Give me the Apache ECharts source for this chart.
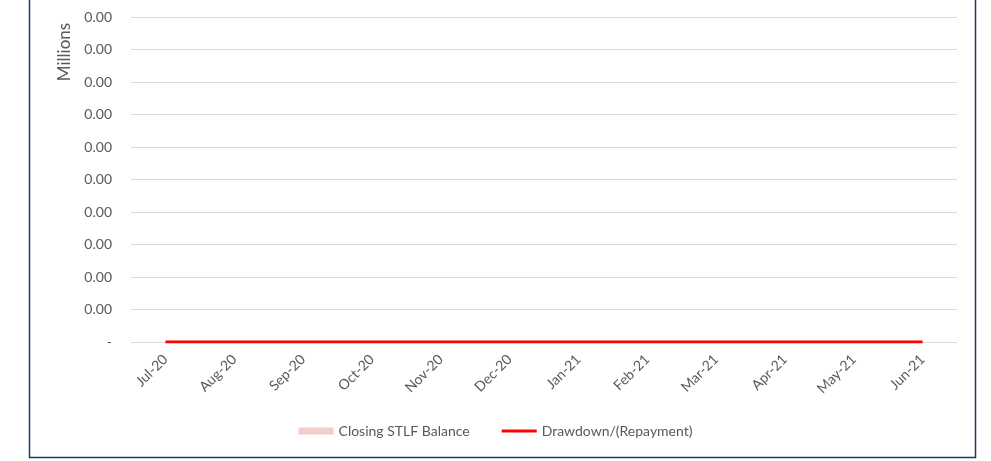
<!DOCTYPE html>
<html>
<head>
<meta charset="utf-8">
<script src="https://cdn.jsdelivr.net/npm/echarts@6/dist/echarts.min.js"></script>
<style>html,body{margin:0;padding:0;background:#fff;}#c{width:991px;height:461px;}</style>
</head>
<body>
<div id="c"></div>
<script>
const categories = ['Jul-20','Aug-20','Sep-20','Oct-20','Nov-20','Dec-20','Jan-21','Feb-21','Mar-21','Apr-21','May-21','Jun-21'];
const closingBalance = [0,0,0,0,0,0,0,0,0,0,0,0];
const drawdown = [0,0,0,0,0,0,0,0,0,0,0,0];
const yTickLabels = ['-','0.00','0.00','0.00','0.00','0.00','0.00','0.00','0.00','0.00','0.00'];

const chart = echarts.init(document.getElementById('c'), null, {renderer:'canvas'});
const font = 'Lato, "Liberation Sans", sans-serif';
chart.setOption({
  animation: false,
  textStyle: {fontFamily: font},
  grid: {left: 131, right: 34, top: 17, bottom: 119, containLabel: false},
  xAxis: {
    type: 'category',
    data: categories,
    boundaryGap: true,
    axisLine: {show: false},
    axisTick: {show: false},
    axisLabel: {rotate: 45, margin: 15, color: '#595959', fontSize: 14, fontFamily: font}
  },
  yAxis: {
    type: 'value',
    min: 0, max: 10, interval: 1,
    axisLine: {show: false},
    axisTick: {show: false},
    splitLine: {lineStyle: {color: '#d9d9d9', width: 1}},
    axisLabel: {
      margin: 19, color: '#595959', fontSize: 14, fontFamily: font,
      formatter: function (v) { return yTickLabels[Math.round(v)]; }
    }
  },
  legend: {
    bottom: 18, left: 'center',
    itemGap: 32, itemWidth: 35, itemHeight: 7,
    textStyle: {color: '#595959', fontSize: 14, fontFamily: font},
    data: [
      {name: 'Closing STLF Balance', icon: 'rect'},
      {name: 'Drawdown/(Repayment)', icon: 'path://M0,0 L35,0 L35,3 L0,3 Z'}
    ]
  },
  series: [
    {name: 'Closing STLF Balance', type: 'bar', data: closingBalance, itemStyle: {color: '#f4cccc'}, barWidth: '55%'},
    {name: 'Drawdown/(Repayment)', type: 'line', data: drawdown, symbol: 'none', lineStyle: {color: '#ff0000', width: 3}, itemStyle: {color: '#ff0000'}}
  ],
  graphic: [
    {type: 'rect', shape: {x: 29.5, y: -5, width: 946, height: 462.5}, style: {fill: 'none', stroke: '#203864', lineWidth: 1.5}, silent: true},
    {type: 'text', x: 65, y: 52, rotation: Math.PI / 2, style: {text: 'Millions', fill: '#595959', font: '17px ' + font, align: 'center', verticalAlign: 'middle'}}
  ]
});
</script>
</body>
</html>
